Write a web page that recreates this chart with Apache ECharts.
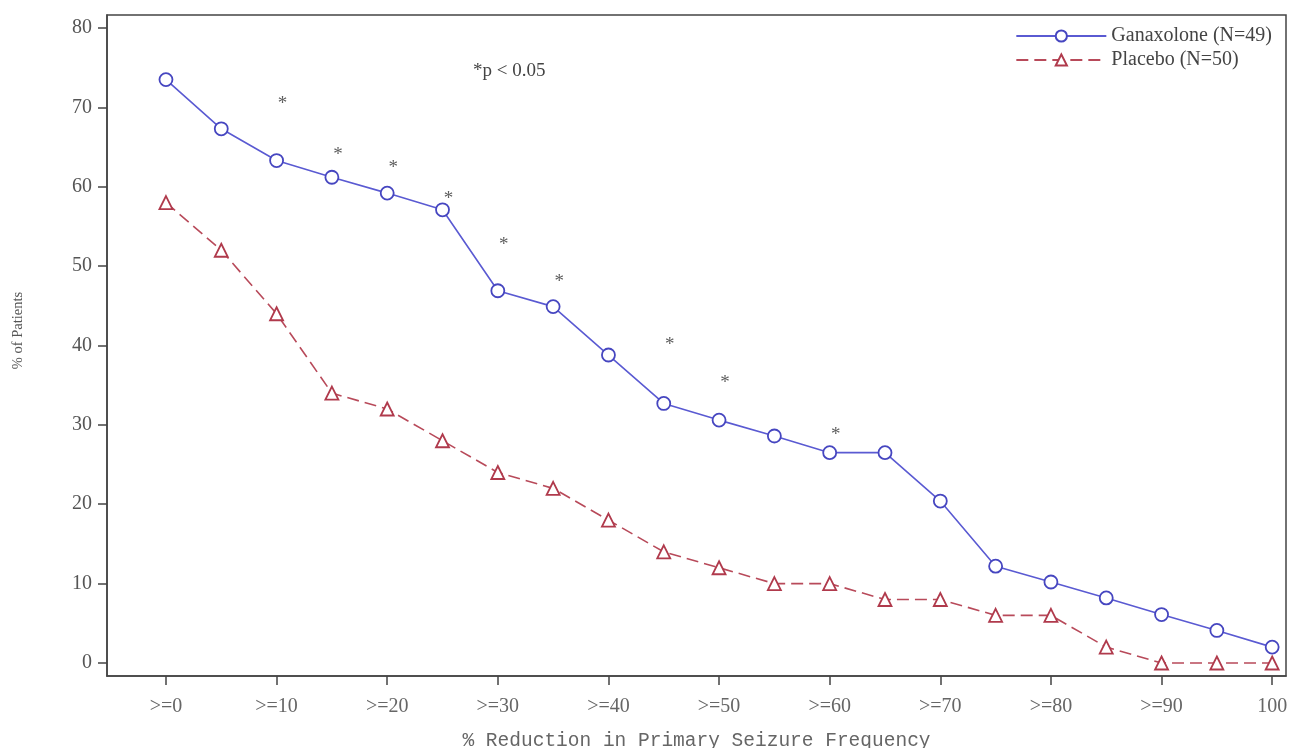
<!DOCTYPE html>
<html>
<head>
<meta charset="utf-8">
<script src="https://cdn.jsdelivr.net/npm/echarts@6/dist/echarts.min.js"></script>
<style>html,body{margin:0;padding:0;background:#fff;}#c{width:1289px;height:748px;}</style>
</head>
<body>
<div id="c"></div>
<script>
const thresholds = [0,5,10,15,20,25,30,35,40,45,50,55,60,65,70,75,80,85,90,95,100];
const ganaxolone = [73.5,67.3,63.3,61.2,59.2,57.1,46.9,44.9,38.8,32.7,30.6,28.6,26.5,26.5,20.4,12.2,10.2,8.2,6.1,4.1,2.0];
const placebo = [58,52,44,34,32,28,24,22,18,14,12,10,10,8,8,6,6,2,0,0,0];
const starX = [10,15,20,25,30,35,45,50,60];
const starY = [70.8,64.4,62.7,58.8,53.1,48.4,40.4,35.6,29.1];
const xTicks = [0,10,20,30,40,50,60,70,80,90,100];
const yTicks = [0,10,20,30,40,50,60,70,80];

const chart = echarts.init(document.getElementById('c'));
const serif = '"Liberation Serif", "DejaVu Serif", serif';
chart.setOption({
  animation: false,
  backgroundColor: '#fff',
  title: {
    text: '*p < 0.05', left: 473, top: 62, padding: 0,
    textStyle: {fontFamily: serif, fontSize: 19, fontWeight: 'normal', color: '#444'}
  },
  legend: {
    right: 17, top: 26, orient: 'vertical', itemGap: 4, padding: 0,
    itemWidth: 90, itemHeight: 14,
    textStyle: {fontFamily: serif, fontSize: 20, color: '#444'},
    data: ['Ganaxolone (N=49)', 'Placebo (N=50)']
  },
  grid: {left: 107, top: 15, right: 3, bottom: 72, outerBoundsMode: 'none', containLabel: false,
    show: true, borderColor: '#444', borderWidth: 1.5},
  xAxis: {
    type: 'value', min: -5.33, max: 101.25,
    name: '% Reduction in Primary Seizure Frequency', nameLocation: 'middle', nameGap: 55,
    nameTextStyle: {fontFamily: '"Liberation Mono", "DejaVu Sans Mono", monospace', fontSize: 19.5, color: '#666'},
    axisLine: {show: true, onZero: false, lineStyle: {color: '#444', width: 1.5}},
    axisTick: {show: true, length: 9, customValues: xTicks, lineStyle: {color: '#444', width: 1.5}},
    axisLabel: {customValues: xTicks, margin: 21, fontFamily: serif, fontSize: 20, color: '#666',
      formatter: v => v === 100 ? '100' : '>=' + v},
    splitLine: {show: false}
  },
  yAxis: {
    type: 'value', min: -1.64, max: 81.64,
    name: '% of Patients', nameLocation: 'middle', nameGap: 81, nameRotate: 90,
    nameTextStyle: {fontFamily: serif, fontSize: 14.5, color: '#555', padding: [0, 0, 0, 30]},
    axisLine: {show: true, onZero: false, lineStyle: {color: '#444', width: 1.5}},
    axisTick: {show: true, length: 9, customValues: yTicks, lineStyle: {color: '#444', width: 1.5}},
    axisLabel: {customValues: yTicks, margin: 15, fontFamily: serif, fontSize: 20, color: '#555'},
    splitLine: {show: false}
  },
  series: [
    {
      name: 'Ganaxolone (N=49)', type: 'line',
      data: thresholds.map((x, i) => [x, ganaxolone[i]]),
      symbol: 'circle', symbolSize: 13, showAllSymbol: true,
      lineStyle: {color: '#5a5ad2', width: 1.6},
      itemStyle: {color: '#fff', borderColor: '#4646c0', borderWidth: 1.8},
      z: 3
    },
    {
      name: 'Placebo (N=50)', type: 'line',
      data: thresholds.map((x, i) => [x, placebo[i]]),
      symbol: 'triangle', symbolSize: 13, showAllSymbol: true,
      lineStyle: {color: '#b84a5a', width: 1.6, type: [12, 6]},
      itemStyle: {color: '#fff', borderColor: '#b03a4c', borderWidth: 1.8},
      z: 2
    },
    {
      name: 'sig', type: 'scatter',
      data: starX.map((x, i) => [x, starY[i]]),
      symbolSize: 0, silent: true,
      label: {show: true, position: 'inside', formatter: '*', offset: [6, 3],
        fontFamily: serif, fontSize: 19, color: '#333'}
    }
  ]
});
</script>
</body>
</html>
